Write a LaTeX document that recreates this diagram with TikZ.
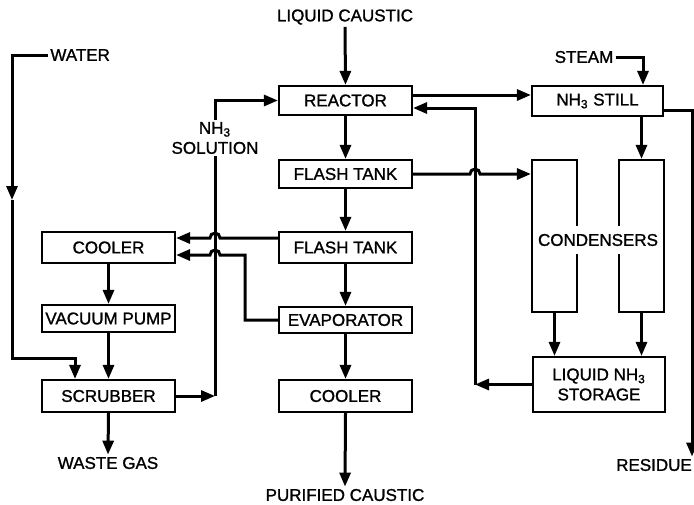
\documentclass[tikz,border=0pt]{standalone}
\usepackage{fontspec}
\setmainfont{Liberation Sans}[AutoFakeBold=1.2]
\usetikzlibrary{arrows.meta,calc}

\tikzset{
  unit/.style={draw, line width=1.1pt, minimum width=66.5pt, minimum height=14pt, inner sep=0pt, align=center},
  column/.style={draw, line width=1.1pt, minimum width=22.5pt, minimum height=76pt, inner sep=0pt},
  flow/.style={line width=1.5pt, -{Triangle[length=7pt,width=5.5pt]}},
  pipe/.style={line width=1.5pt},
  lbl/.style={inner sep=1pt, align=center},
}

\begin{document}
\begin{tikzpicture}[x=0.5pt,y=-0.5pt, font=\fontsize{8.5}{10}\selectfont\bfseries]
    \useasboundingbox (0,0) rectangle (694,504);

    % centre column
    \node[unit, minimum height=14.5pt] (reactor) at (345.5,100.5) {REACTOR};
    \node[unit] (flashA) at (345.5,174) {FLASH TANK};
    \node[unit, minimum height=15.5pt] (flashB) at (345.5,247.5) {FLASH TANK};
    \node[unit, minimum height=13pt] (evap) at (345.5,320) {EVAPORATOR};
    \node[unit, minimum height=16pt] (coolerC) at (345.5,396) {COOLER};

    % left column
    \node[unit, minimum height=15.5pt] (coolerL) at (108.5,247.5) {COOLER};
    \node[unit, minimum height=13.5pt] (vacuum) at (108.5,318.5) {VACUUM PUMP};
    \node[unit, minimum height=16pt] (scrubber) at (108.5,396) {SCRUBBER};

    % right side
    \node[unit, minimum width=65.5pt, minimum height=15pt] (still) at (597.5,101) {NH\textsubscript{3} STILL};
    \node[column] (condL) at (554.5,236) {};
    \node[column] (condR) at (641.5,236) {};
    \node[lbl, fill=white, inner ysep=4pt] (condlbl) at (598,240) {CONDENSERS};
    \node[unit, minimum width=66pt, minimum height=27.5pt] (storage) at (599,384.5) {LIQUID NH\textsubscript{3}\\STORAGE};

    % labels
    \node[lbl] (caustic) at (345,17) {LIQUID CAUSTIC};
    \node[lbl] (purified) at (345,495) {PURIFIED CAUSTIC};
    \node[lbl, anchor=west] (water) at (48,55) {WATER};
    \node[lbl] (waste) at (108,463) {WASTE GAS};
    \node[lbl] (sol) at (215,138) {NH\textsubscript{3}\\SOLUTION};
    \node[lbl] (steam) at (584,57) {STEAM};
    \node[lbl] (residue) at (654,465) {RESIDUE};

    % main caustic line
    \draw[flow] (caustic.south) -- (reactor.north);
    \draw[flow] (reactor.south) -- (flashA.north);
    \draw[flow] (flashA.south) -- (flashB.north);
    \draw[flow] (flashB.south) -- (evap.north);
    \draw[flow] (evap.south) -- (coolerC.north);
    \draw[flow] (coolerC.south) -- (purified.north);

    % gas side
    \draw[flow] (coolerL.south) -- (vacuum.north);
    \draw[flow] (vacuum.south) -- (scrubber.north);
    \draw[flow] (scrubber.south) -- (waste.north);

    % water
    \coordinate (wa) at (12,200);
    \coordinate (wb) at (75,358);
    \draw[flow] (water.west) -| (wa);
    \draw[flow] (wa) |- (wb) -- (wb |- scrubber.north);

    % NH3 solution back to reactor
    \draw[flow] (scrubber.east) -- (scrubber.east -| sol.south);
    \draw[pipe] (scrubber.east -| sol.south) -- (sol.south);
    \draw[flow] (sol.north) |- (reactor.west);

    % vapours to cooler (jumping the solution line)
    \draw[flow] (flashB.west |- 0,238) -- (220,238)
        arc[start angle=0, end angle=-180, radius=5] -- (coolerL.east |- 0,238);
    \draw[flow] (evap.west) -| (245,255) -- (220,255)
        arc[start angle=0, end angle=-180, radius=5] -- (coolerL.east |- 0,255);

    % ammonia recovery
    \draw[flow] (reactor.east |- 0,95) -- (still.west |- 0,95);
    \draw[flow] (flashA.east) -- (470,174)
        arc[start angle=180, end angle=360, radius=5] -- (condL.west |- flashA.east);
    \coordinate (stilltop) at (still.north -| 643,0);
    \draw[flow] (steam.east) -| (stilltop);
    \draw[flow] (still.south -| condR.north) -- (condR.north);
    \draw[flow] (condL.south) -- (condL.south |- storage.north);
    \draw[flow] (condR.south) -- (condR.south |- storage.north);

    % liquid NH3 return
    \coordinate (ret) at (475,384.5);
    \draw[flow] (storage.west) -- (ret);
    \draw[flow] (ret) -- (475,108) -- (reactor.east |- 0,108);

    % residue
    \draw[flow] (still.east |- 0,110) -| (residue.north -| 692,0);
\end{tikzpicture}
\end{document}
